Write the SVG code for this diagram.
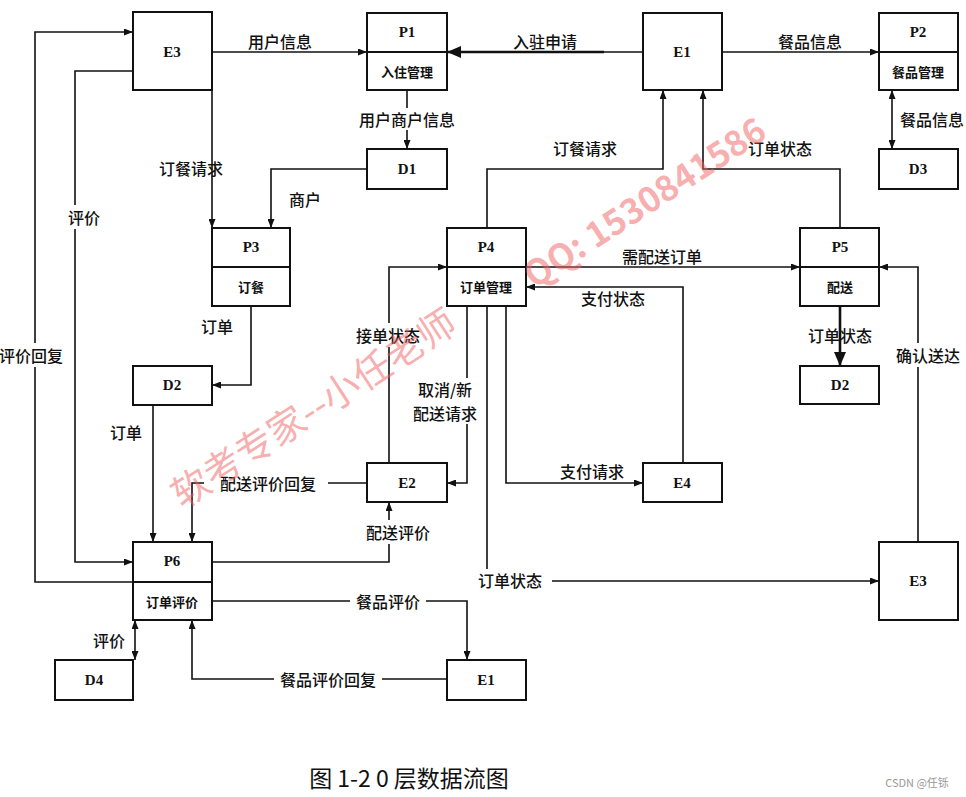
<svg xmlns="http://www.w3.org/2000/svg" width="966" height="797" viewBox="0 0 966 797">
<style>
.box{fill:#fff;stroke:#111;stroke-width:2}
.div{stroke:#111;stroke-width:2}
.id{font-family:"Liberation Serif",serif;font-weight:bold;font-size:15px;fill:#111;text-anchor:middle;dominant-baseline:central}
.nm{font-family:"Noto Sans CJK SC",sans-serif;font-weight:bold;font-size:13px;fill:#111;text-anchor:middle;dominant-baseline:central}
.ln{fill:none;stroke:#111;stroke-width:1.6}
.bold{fill:none;stroke:#111;stroke-width:2.6}
.lb{font-family:"Noto Sans CJK SC",sans-serif;font-weight:500;font-size:16px;fill:#111;text-anchor:middle;dominant-baseline:central}
.bg{fill:#fff}
.wm{font-family:"Noto Sans CJK SC",sans-serif;fill:#f06060;fill-opacity:0.5;text-anchor:middle;dominant-baseline:central}
</style>
<defs>
<marker id="arr" markerUnits="userSpaceOnUse" markerWidth="9" markerHeight="7" refX="9" refY="3.5" orient="auto-start-reverse"><path d="M0,0 L9,3.5 L0,7 z" fill="#111"/></marker>
<marker id="big" markerUnits="userSpaceOnUse" markerWidth="14" markerHeight="12" refX="14" refY="6" orient="auto"><path d="M0,0 L14,6 L0,12 z" fill="#111"/></marker>
</defs>
<rect width="966" height="797" fill="#fff"/>

<g id="connectors">
<path class="ln" d="M212,52 H367" marker-end="url(#arr)"/>
<path class="ln" d="M643,52 H603"/>
<path class="bold" d="M604,52 H447" marker-end="url(#big)"/>
<path class="ln" d="M407,90 V149" marker-end="url(#arr)"/>
<path class="ln" d="M367,169 H271 V228" marker-end="url(#arr)"/>
<path class="ln" d="M212,90 V228" marker-end="url(#arr)"/>
<path class="ln" d="M133,71 H75 V562 H133" marker-end="url(#arr)"/>
<path class="ln" d="M133,582 H35 V32 H133" marker-end="url(#arr)"/>
<path class="ln" d="M251,306 V385 H212" marker-end="url(#arr)"/>
<path class="ln" d="M153,405 V542" marker-end="url(#arr)"/>
<path class="ln" d="M367,483 H192 V542" marker-end="url(#arr)"/>
<path class="ln" d="M212,562 H389 V502" marker-end="url(#arr)"/>
<path class="ln" d="M389,463 V267 H447" marker-end="url(#arr)"/>
<path class="ln" d="M467,306 V483 H447" marker-end="url(#arr)"/>
<path class="ln" d="M487,228 V169 H663 V90" marker-end="url(#arr)"/>
<path class="ln" d="M840,228 V169 H703 V90" marker-end="url(#arr)"/>
<path class="ln" d="M722,52 H879" marker-end="url(#arr)"/>
<path class="ln" d="M892,90 V149" marker-start="url(#arr)" marker-end="url(#arr)"/>
<path class="ln" d="M526,267 H800" marker-end="url(#arr)"/>
<path class="ln" d="M683,463 V287 H526" marker-end="url(#arr)"/>
<path class="ln" d="M506,306 V483 H643" marker-end="url(#arr)"/>
<path class="ln" d="M487,306 V581 H879" marker-end="url(#arr)"/>
<path class="bold" d="M840,306 V366" marker-end="url(#big)"/>
<path class="ln" d="M918,542 V267 H879" marker-end="url(#arr)"/>
<path class="ln" d="M212,601 H467 V660" marker-end="url(#arr)"/>
<path class="ln" d="M447,679 H192 V620" marker-end="url(#arr)"/>
<path class="ln" d="M135,620 V660" marker-start="url(#arr)" marker-end="url(#arr)"/>

<rect class="bg" x="356" y="108" width="102" height="22"/>
<rect class="bg" x="66" y="205" width="36" height="24"/>
<rect class="bg" x="0" y="343" width="64" height="24"/>
<rect class="bg" x="204" y="471" width="124" height="24"/>
<rect class="bg" x="364" y="520" width="68" height="24"/>
<rect class="bg" x="354" y="323" width="68" height="24"/>
<rect class="bg" x="411" y="378" width="70" height="46"/>
<rect class="bg" x="474" y="569" width="78" height="24"/>
<rect class="bg" x="894" y="343" width="68" height="24"/>
<rect class="bg" x="350" y="589" width="76" height="24"/>
<rect class="bg" x="274" y="667" width="108" height="24"/>

<text class="lb" x="280" y="41">用户信息</text>
<text class="lb" x="545" y="41">入驻申请</text>
<text class="lb" x="407" y="119">用户商户信息</text>
<text class="lb" x="305" y="199">商户</text>
<text class="lb" x="191" y="168">订餐请求</text>
<text class="lb" x="84" y="217">评价</text>
<text class="lb" x="31" y="355">评价回复</text>
<text class="lb" x="217" y="326">订单</text>
<text class="lb" x="126" y="432">订单</text>
<text class="lb" x="268" y="483">配送评价回复</text>
<text class="lb" x="398" y="532">配送评价</text>
<text class="lb" x="388" y="335">接单状态</text>
<text class="lb" x="445" y="389" font-size="15">取消/新</text>
<text class="lb" x="445" y="413" font-size="15">配送请求</text>
<text class="lb" x="585" y="148">订餐请求</text>
<text class="lb" x="780" y="148">订单状态</text>
<text class="lb" x="810" y="41">餐品信息</text>
<text class="lb" x="932" y="119">餐品信息</text>
<text class="lb" x="662" y="256">需配送订单</text>
<text class="lb" x="613" y="298">支付状态</text>
<text class="lb" x="592" y="471">支付请求</text>
<text class="lb" x="510" y="580">订单状态</text>
<text class="lb" x="840" y="335">订单状态</text>
<text class="lb" x="928" y="355">确认送达</text>
<text class="lb" x="388" y="601">餐品评价</text>
<text class="lb" x="328" y="679">餐品评价回复</text>
<text class="lb" x="109" y="640">评价</text>
</g>

<g id="E3a"><rect class="box" x="133" y="12" width="79" height="78"/><text class="id" x="172" y="52">E3</text></g>
<g id="P1"><rect class="box" x="367" y="13" width="80" height="77"/><line class="div" x1="367" y1="52" x2="447" y2="52"/><text class="id" x="407" y="32">P1</text><text class="nm" x="407" y="71">入住管理</text></g>
<g id="E1a"><rect class="box" x="643" y="13" width="79" height="77"/><text class="id" x="682" y="52">E1</text></g>
<g id="P2"><rect class="box" x="879" y="13" width="79" height="77"/><line class="div" x1="879" y1="52" x2="958" y2="52"/><text class="id" x="918" y="32">P2</text><text class="nm" x="918" y="71">餐品管理</text></g>
<g id="D1"><rect class="box" x="367" y="149" width="80" height="40"/><text class="id" x="407" y="169">D1</text></g>
<g id="D3"><rect class="box" x="879" y="149" width="79" height="40"/><text class="id" x="918" y="169">D3</text></g>
<g id="P3"><rect class="box" x="212" y="228" width="78" height="78"/><line class="div" x1="212" y1="267" x2="290" y2="267"/><text class="id" x="251" y="247">P3</text><text class="nm" x="251" y="286">订餐</text></g>
<g id="P4"><rect class="box" x="447" y="228" width="79" height="78"/><line class="div" x1="447" y1="267" x2="526" y2="267"/><text class="id" x="486" y="247">P4</text><text class="nm" x="486" y="286">订单管理</text></g>
<g id="P5"><rect class="box" x="800" y="228" width="79" height="78"/><line class="div" x1="800" y1="267" x2="879" y2="267"/><text class="id" x="840" y="247">P5</text><text class="nm" x="840" y="286">配送</text></g>
<g id="D2a"><rect class="box" x="133" y="366" width="79" height="39"/><text class="id" x="172" y="385">D2</text></g>
<g id="D2b"><rect class="box" x="800" y="366" width="79" height="38"/><text class="id" x="840" y="385">D2</text></g>
<g id="E2"><rect class="box" x="367" y="463" width="80" height="39"/><text class="id" x="407" y="483">E2</text></g>
<g id="E4"><rect class="box" x="643" y="463" width="79" height="39"/><text class="id" x="682" y="483">E4</text></g>
<g id="P6"><rect class="box" x="133" y="542" width="79" height="78"/><line class="div" x1="133" y1="582" x2="212" y2="582"/><text class="id" x="172" y="561">P6</text><text class="nm" x="172" y="601">订单评价</text></g>
<g id="E3b"><rect class="box" x="879" y="542" width="79" height="78"/><text class="id" x="918" y="581">E3</text></g>
<g id="D4"><rect class="box" x="55" y="660" width="78" height="40"/><text class="id" x="94" y="680">D4</text></g>
<g id="E1b"><rect class="box" x="447" y="660" width="79" height="40"/><text class="id" x="486" y="680">E1</text></g>

<text class="wm" x="312" y="406" font-size="38" transform="rotate(-33 312 406)">软考专家--小任老师</text>
<text class="wm" x="643" y="200" font-size="35" font-weight="bold" transform="rotate(-33 643 200)">QQ: 1530841586</text>

<text x="409" y="777" font-family="Noto Sans CJK SC, sans-serif" font-size="23" fill="#111" text-anchor="middle" dominant-baseline="central">图 1-2 0 层数据流图</text>
<text x="917" y="782" font-family="Noto Sans CJK SC, sans-serif" font-size="11" fill="#999" text-anchor="middle" dominant-baseline="central">CSDN @任铄</text>
</svg>
